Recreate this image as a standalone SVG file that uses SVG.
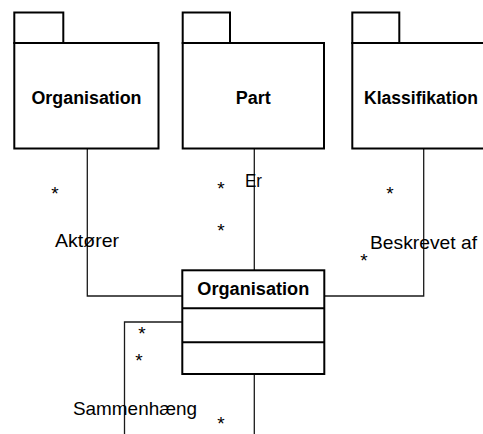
<svg xmlns="http://www.w3.org/2000/svg" width="483" height="434" viewBox="0 0 483 434">
  <style>
    .frame { fill: #ffffff; stroke: #000000; stroke-width: 2; }
    .conn { fill: none; stroke: #1a1a1a; stroke-width: 1.3; }
    .title { font-family: "Liberation Sans", Arial, sans-serif; font-size: 18px; font-weight: bold; fill: #000000; text-anchor: middle; }
    .label { font-family: "Liberation Sans", Arial, sans-serif; font-size: 19px; fill: #000000; }
    .mult { font-family: "Liberation Sans", Arial, sans-serif; font-size: 19px; fill: #000000; text-anchor: middle; }
  </style>
  <rect width="483" height="434" fill="#ffffff"/>

  <!-- associations -->
  <g id="connectors">
    <polyline class="conn" points="87.3,148.5 87.3,296 182,296"/>
    <line class="conn" x1="254.3" y1="148.5" x2="254.3" y2="270"/>
    <polyline class="conn" points="423.7,148.5 423.7,296 324,296"/>
    <polyline class="conn" points="182,322 124.5,322 124.5,434"/>
    <line class="conn" x1="254.3" y1="374" x2="254.3" y2="434"/>
  </g>

  <!-- packages -->
  <g id="pkg-organisation">
    <rect class="frame" x="14.3" y="12.5" width="49" height="30.5"/>
    <rect class="frame" x="14.3" y="43" width="144.2" height="105.5"/>
    <text class="title" x="86.5" y="104" textLength="110" lengthAdjust="spacingAndGlyphs">Organisation</text>
  </g>
  <g id="pkg-part">
    <rect class="frame" x="182.7" y="12.5" width="47.3" height="30.5"/>
    <rect class="frame" x="182.7" y="43" width="141.3" height="105.5"/>
    <text class="title" x="253.3" y="103.5">Part</text>
  </g>
  <g id="pkg-klassifikation">
    <rect class="frame" x="352.3" y="12.5" width="47" height="30.5"/>
    <rect class="frame" x="352.3" y="43" width="140" height="105.5"/>
    <text class="title" x="421" y="104" textLength="114" lengthAdjust="spacingAndGlyphs">Klassifikation</text>
  </g>

  <!-- class -->
  <g id="class-organisation">
    <rect class="frame" x="182.3" y="270.3" width="142" height="103.7"/>
    <line class="frame" x1="182.3" y1="308.3" x2="324.3" y2="308.3"/>
    <line class="frame" x1="182.3" y1="342.3" x2="324.3" y2="342.3"/>
    <text class="title" x="253.3" y="295" textLength="112" lengthAdjust="spacingAndGlyphs">Organisation</text>
  </g>

  <!-- role names -->
  <g id="labels">
    <text class="label" x="55" y="247" textLength="64" lengthAdjust="spacingAndGlyphs">Aktører</text>
    <text class="label" x="245" y="187" textLength="17" lengthAdjust="spacingAndGlyphs">Er</text>
    <text class="label" x="370" y="249" textLength="107" lengthAdjust="spacingAndGlyphs">Beskrevet af</text>
    <text class="label" x="73" y="415" textLength="124" lengthAdjust="spacingAndGlyphs">Sammenhæng</text>
  </g>

  <!-- multiplicities -->
  <g id="multiplicities">
    <text class="mult" x="55" y="200">*</text>
    <text class="mult" x="221" y="195">*</text>
    <text class="mult" x="221" y="237">*</text>
    <text class="mult" x="390" y="200">*</text>
    <text class="mult" x="364" y="267">*</text>
    <text class="mult" x="142" y="340">*</text>
    <text class="mult" x="139" y="367">*</text>
    <text class="mult" x="221" y="430">*</text>
  </g>
</svg>
